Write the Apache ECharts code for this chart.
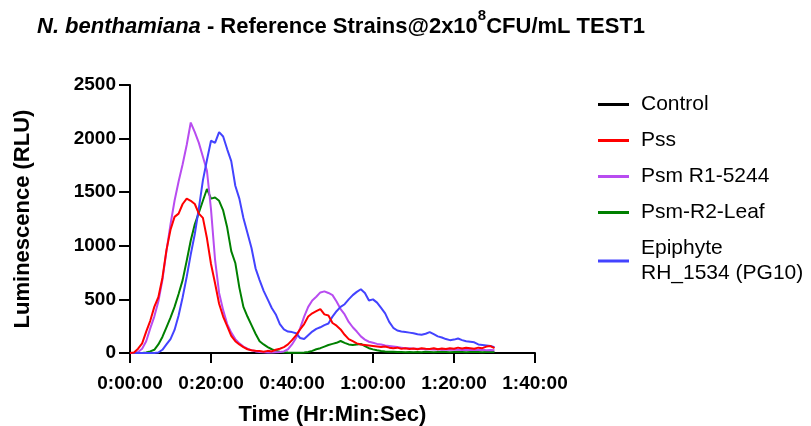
<!DOCTYPE html>
<html>
<head>
<meta charset="utf-8">
<script src="https://cdn.jsdelivr.net/npm/echarts@6/dist/echarts.min.js"></script>
<style>
  html, body { margin: 0; padding: 0; background: #fff; }
  #chart { width: 811px; height: 426px; }
</style>
</head>
<body>
<div id="chart"></div>
<script>
// sample times in minutes
var minutes = [0,1,2,3,4,5,6,7,8,9,10,11,12,13,14,15,16,17,18,19,20,21,22,23,24,25,26,27,28,29,30,
  31,32,33,34,35,36,37,38,39,40,41,42,43,44,45,46,47,48,49,50,51,52,53,54,55,56,57,58,59,60,
  61,62,63,64,65,66,67,68,69,70,71,72,73,74,75,76,77,78,79,80,81,82,83,84,85,86,87,88,89,90];

var yTicks = [0, 500, 1000, 1500, 2000, 2500];

var control = [0,0,0,0,0,0,0,0,0,0,0,0,0,0,0,0,0,0,0,0,0,0,0,0,0,0,0,0,0,0,0,
  0,0,0,0,0,0,0,0,0,0,0,0,0,0,0,0,0,0,0,0,0,0,0,0,0,0,0,0,0,0,
  0,0,0,0,0,0,0,0,0,0,0,0,0,0,0,0,0,0,0,0,0,0,0,0,0,0,0,0,0,0];

var pss = [0,5,40,90,200,300,430,520,700,960,1150,1270,1300,1390,1440,1420,1390,1300,1260,1070,830,
  650,460,340,250,160,110,80,55,35,25,
  20,18,12,20,15,30,40,55,80,120,165,220,270,340,370,390,410,360,350,280,
  255,220,170,130,110,90,80,75,70,65,60,55,60,50,45,50,40,45,38,42,
  35,45,40,38,45,35,42,38,45,40,50,42,48,45,40,50,45,60,65,45];

var psmR1 = [0,0,10,40,110,230,340,480,680,950,1200,1420,1600,1760,1940,2150,2060,1960,1830,1700,1340,
  870,560,400,270,190,130,90,60,40,25,
  15,10,8,5,5,8,10,15,35,80,140,230,340,430,490,525,565,575,560,540,
  480,410,360,290,240,200,155,125,105,95,85,80,70,65,60,55,50,45,45,40,
  40,38,35,35,32,35,30,32,30,32,30,28,30,28,30,28,30,25,28,25];

var psmR2 = [0,0,0,0,5,15,30,80,150,240,330,430,550,680,860,1050,1200,1310,1420,1530,1440,
  1450,1420,1330,1170,950,840,610,430,340,260,
  180,110,80,55,35,20,12,8,5,3,3,3,5,10,20,35,45,60,75,85,
  95,112,95,80,75,80,85,65,45,34,25,19,15,12,12,10,10,8,10,8,
  10,8,12,10,8,10,12,10,8,10,12,10,8,10,12,10,8,10,12,10];

var epiphyte = [0,0,0,0,0,0,0,5,30,80,130,215,350,520,710,920,1110,1350,1610,1800,1980,
  1960,2060,2020,1900,1790,1560,1440,1260,1120,980,
  790,680,580,500,420,360,270,220,200,195,185,140,130,165,200,225,240,260,275,340,
  390,430,455,500,540,570,595,560,490,500,470,420,370,290,235,210,200,195,190,185,
  175,170,180,195,175,155,145,130,120,125,135,120,110,105,100,80,75,70,65,55];

function pairs(values) {
  return minutes.map(function (m, i) { return [m, values[i]]; });
}

function hms(m) {
  var h = Math.floor(m / 60);
  var mm = m % 60;
  return h + ':' + (mm < 10 ? '0' : '') + mm + ':00';
}

var chart = echarts.init(document.getElementById('chart'));

var lineSeries = [
  { name: 'Control', color: '#000000', data: control, z: 2 },
  { name: 'Pss', color: '#ff0000', data: pss, z: 6 },
  { name: 'Psm R1-5244', color: '#b84cf0', data: psmR1, z: 4 },
  { name: 'Psm-R2-Leaf', color: '#008000', data: psmR2, z: 3 },
  { name: 'Epiphyte\nRH_1534 (PG10)', color: '#4343ff', data: epiphyte, z: 5 }
];

var option = {
  animation: false,
  textStyle: { fontFamily: 'Liberation Sans, Arial, sans-serif' },
  title: {
    left: 32,
    top: 3,
    text: '{i|N. benthamiana}{b| - Reference Strains@2x10}{sup|8}{b|CFU/mL TEST1}',
    textStyle: {
      rich: {
        i: { fontSize: 22, fontWeight: 'bold', fontStyle: 'italic', color: '#000', lineHeight: 30, verticalAlign: 'bottom' },
        b: { fontSize: 22, fontWeight: 'bold', color: '#000', lineHeight: 30, verticalAlign: 'bottom' },
        sup: { fontSize: 15, fontWeight: 'bold', color: '#000', lineHeight: 30, verticalAlign: 'top' }
      }
    }
  },
  legend: {
    orient: 'vertical',
    left: 593,
    top: 87,
    itemWidth: 31,
    itemHeight: 3,
    itemGap: 11,
    icon: 'rect',
    data: lineSeries.map(function (s) { return s.name; }),
    textStyle: { fontSize: 21, color: '#000', lineHeight: 25, padding: [0, 0, 0, 7] }
  },
  grid: {
    left: 130,
    right: 276,
    top: 85,
    bottom: 73,
    outerBoundsMode: 'none'
  },
  xAxis: {
    type: 'value',
    min: 0,
    max: 100,
    interval: 20,
    name: 'Time (Hr:Min:Sec)',
    nameLocation: 'middle',
    nameGap: 51,
    nameTextStyle: { fontSize: 22, fontWeight: 'bold', color: '#000' },
    splitLine: { show: false },
    axisLine: { lineStyle: { color: '#000', width: 2 } },
    axisTick: { length: 10, lineStyle: { color: '#000', width: 2 } },
    axisLabel: {
      fontSize: 19, fontWeight: 'bold', color: '#000', margin: 21,
      formatter: function (v) { return hms(v); }
    }
  },
  yAxis: {
    type: 'value',
    min: yTicks[0],
    max: yTicks[yTicks.length - 1],
    interval: 500,
    name: 'Luminescence (RLU)',
    nameLocation: 'middle',
    nameGap: 96,
    nameTextStyle: { fontSize: 22, fontWeight: 'bold', color: '#000' },
    splitLine: { show: false },
    axisLine: { show: true, lineStyle: { color: '#000', width: 2 } },
    axisTick: { show: true, length: 11, lineStyle: { color: '#000', width: 2 } },
    axisLabel: {
      fontSize: 19, fontWeight: 'bold', color: '#000', margin: 14,
      formatter: function (v) { return String(v); }
    }
  },
  series: lineSeries.map(function (s) {
    return {
      name: s.name,
      type: 'line',
      data: pairs(s.data),
      showSymbol: false,
      symbol: 'none',
      z: s.z,
      itemStyle: { color: s.color },
      lineStyle: { color: s.color, width: 2 }
    };
  })
};

chart.setOption(option);
</script>
</body>
</html>
